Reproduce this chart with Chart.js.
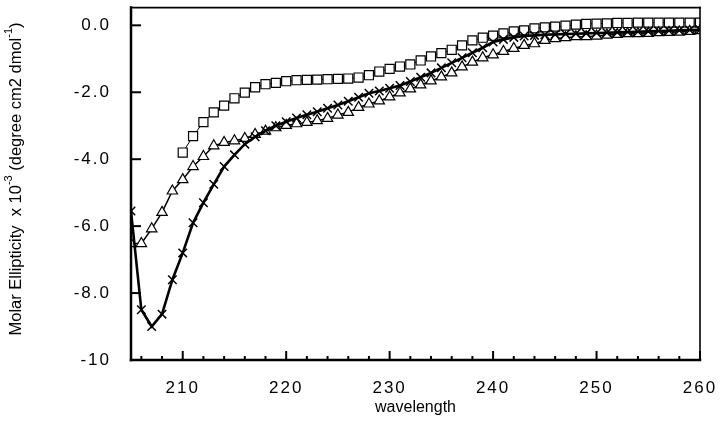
<!DOCTYPE html>
<html>
<head>
<meta charset="utf-8">
<script src="https://cdn.jsdelivr.net/npm/chart.js@4.4.1/dist/chart.umd.min.js"></script>
<style>
  html, body { margin: 0; padding: 0; background: #fff; }
</style>
</head>
<body>
<canvas id="grafica" width="720" height="423"></canvas>
<script>
const FUENTE = "'Liberation Sans', Arial, Helvetica, sans-serif";

// longitudes de onda (nm)
const longitudes = [205, 206, 207, 208, 209, 210, 211, 212, 213, 214, 215, 216, 217, 218, 219,
  220, 221, 222, 223, 224, 225, 226, 227, 228, 229, 230, 231, 232, 233, 234, 235, 236, 237, 238, 239,
  240, 241, 242, 243, 244, 245, 246, 247, 248, 249, 250, 251, 252, 253, 254, 255, 256, 257, 258, 259, 260];
const longitudesCuadros = longitudes.slice(5); // la serie de cuadros empieza en 210

const valoresCruces = [-5.55, -8.5, -9.0, -8.63, -7.6, -6.8, -5.9, -5.3, -4.75, -4.22, -3.87, -3.55, -3.33, -3.15, -3.0,
  -2.88, -2.77, -2.67, -2.58, -2.48, -2.38, -2.27, -2.15, -2.03, -1.96, -1.88, -1.8, -1.68, -1.55, -1.42, -1.27, -1.12, -0.97, -0.82, -0.67,
  -0.5, -0.42, -0.36, -0.32, -0.3, -0.28, -0.27, -0.26, -0.25, -0.24, -0.23, -0.22, -0.21, -0.2, -0.19, -0.18, -0.17, -0.16, -0.15, -0.14, -0.13];

const valoresTriangulos = [-6.52, -6.52, -6.08, -5.59, -4.95, -4.61, -4.22, -3.92, -3.6, -3.5, -3.45, -3.38, -3.26, -3.16, -3.06,
  -2.99, -2.94, -2.9, -2.85, -2.78, -2.68, -2.6, -2.45, -2.35, -2.26, -2.14, -2.02, -1.9, -1.78, -1.66, -1.54, -1.42, -1.24, -1.1, -0.97,
  -0.88, -0.78, -0.69, -0.6, -0.55, -0.45, -0.4, -0.37, -0.34, -0.34, -0.32, -0.29, -0.27, -0.25, -0.25, -0.24, -0.22, -0.21, -0.2, -0.18, -0.16];

const valoresCuadros = [-3.8, -3.31, -2.89, -2.6, -2.4, -2.18, -2.01, -1.85, -1.76, -1.72,
  -1.67, -1.64, -1.63, -1.62, -1.61, -1.6, -1.59, -1.56, -1.49, -1.38, -1.3, -1.23, -1.17, -1.05, -0.93, -0.83, -0.73, -0.6, -0.45, -0.37,
  -0.31, -0.24, -0.18, -0.15, -0.09, -0.06, -0.04, -0.01, 0.02, 0.04, 0.05, 0.06, 0.07, 0.07, 0.08, 0.08, 0.08, 0.08, 0.08, 0.08, 0.08];

const marcasX = [206, 208, 210, 212, 214, 216, 218, 220, 222, 224, 226, 228, 230, 232, 234, 236, 238,
  240, 242, 244, 246, 248, 250, 252, 254, 256, 258, 260];
const marcasY = [-10, -8, -6, -4, -2, 0];

const puntos = (xs, ys) => xs.map((x, i) => ({ x, y: ys[i] }));

/* marco, marcas hacia dentro y títulos */
const pluginMarco = {
  id: "marco",
  beforeDraw(chart) {
    chart.ctx.letterSpacing = "2px";
  },
  afterDraw(chart) {
    const { ctx, chartArea: a, scales } = chart;
    const linea = (x1, y1, x2, y2) => {
      ctx.beginPath();
      ctx.moveTo(x1, y1);
      ctx.lineTo(x2, y2);
      ctx.stroke();
    };
    ctx.save();
    ctx.letterSpacing = "0px";
    ctx.strokeStyle = "#000";
    ctx.lineCap = "square";

    ctx.lineWidth = 1.6;
    linea(a.left, a.top, a.right, a.top);
    linea(a.right, a.top, a.right, a.bottom);
    ctx.lineWidth = 2.5;
    linea(a.left, a.top, a.left, a.bottom);
    linea(a.left, a.bottom, a.right, a.bottom);

    ctx.lineWidth = 2;
    ctx.lineCap = "butt";
    scales.x.ticks.forEach(t => {
      const px = scales.x.getPixelForValue(t.value);
      linea(px, a.bottom, px, a.bottom - (t.value % 10 === 0 ? 9 : 4));
    });
    scales.y.ticks.forEach(t => {
      const py = scales.y.getPixelForValue(t.value);
      linea(a.left, py, a.left + 10, py);
    });

    ctx.fillStyle = "#000";
    ctx.textBaseline = "middle";
    ctx.textAlign = "center";
    ctx.font = `16px ${FUENTE}`;
    ctx.fillText("wavelength", (a.left + a.right) / 2, 408);

    // título vertical con superíndices
    const partes = [
      { t: "Molar Ellipticity  x 10", s: 16.5, dy: 0 },
      { t: "-3", s: 11, dy: -7 },
      { t: " (degree cm2 dmol", s: 16.5, dy: 0 },
      { t: "-1", s: 11, dy: -7 },
      { t: ")", s: 16.5, dy: 0 }
    ];
    ctx.translate(16, 179);
    ctx.rotate(-Math.PI / 2);
    ctx.textAlign = "left";
    let total = 0;
    partes.forEach(p => {
      ctx.font = `${p.s}px ${FUENTE}`;
      p.w = ctx.measureText(p.t).width;
      total += p.w;
    });
    let x = -total / 2;
    partes.forEach(p => {
      ctx.font = `${p.s}px ${FUENTE}`;
      ctx.fillText(p.t, x, p.dy);
      x += p.w;
    });
    ctx.restore();
  }
};

new Chart(document.getElementById("grafica"), {
  type: "line",
  data: {
    datasets: [
      {
        label: "cruces",
        data: puntos(longitudes, valoresCruces),
        borderColor: "#000",
        borderWidth: 2.6,
        pointStyle: "crossRot",
        pointRadius: 6,
        pointBorderWidth: 1.5,
        pointBorderColor: "#000",
        order: 0
      },
      {
        label: "triangulos",
        data: puntos(longitudes, valoresTriangulos),
        borderColor: "#000",
        borderWidth: 1.5,
        pointStyle: "triangle",
        pointRadius: 6,
        pointBorderWidth: 1.2,
        pointBorderColor: "#000",
        pointBackgroundColor: "#fff",
        order: 1
      },
      {
        label: "cuadros",
        data: puntos(longitudesCuadros, valoresCuadros),
        borderColor: "#000",
        borderWidth: 1,
        pointStyle: "rect",
        pointRadius: 6.4,
        pointBorderWidth: 1.2,
        pointBorderColor: "#000",
        pointBackgroundColor: "#fff",
        order: 2
      }
    ]
  },
  options: {
    responsive: false,
    animation: false,
    events: [],
    layout: { padding: { top: 2, right: 20, bottom: 0, left: 0 } },
    plugins: {
      legend: { display: false },
      tooltip: { enabled: false }
    },
    scales: {
      x: {
        type: "linear",
        min: 205,
        max: 260,
        grid: { display: false },
        border: { display: false },
        ticks: {
          autoSkip: false,
          maxRotation: 0,
          padding: 10,
          color: "#000",
          font: { family: FUENTE, size: 17 },
          callback: v => (v % 10 === 0 ? String(v) : "")
        },
        afterBuildTicks: s => { s.ticks = marcasX.map(v => ({ value: v })); },
        afterFit: s => {
          s.height = 63;
          s.paddingLeft = 0;
          s.paddingRight = 0;
        }
      },
      y: {
        min: -10,
        max: 0.53,
        grid: { display: false },
        border: { display: false },
        ticks: {
          padding: 12,
          color: "#000",
          font: { family: FUENTE, size: 17 },
          callback: v => (v === -10 ? "-10" : v.toFixed(1))
        },
        afterBuildTicks: s => { s.ticks = marcasY.map(v => ({ value: v })); },
        afterFit: s => {
          s.width = 131;
          s.paddingTop = 0;
          s.paddingBottom = 0;
        }
      }
    }
  },
  plugins: [pluginMarco]
});
</script>
</body>
</html>
